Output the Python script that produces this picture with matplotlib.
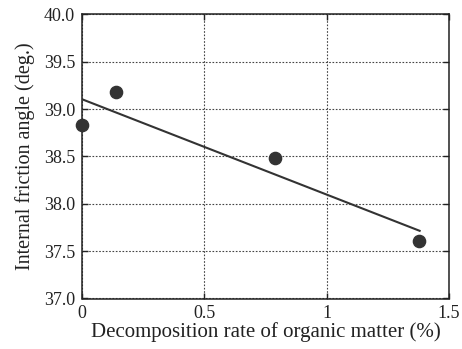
import numpy as np
import matplotlib
matplotlib.use('Agg')
import matplotlib.pyplot as plt

plt.rcParams['font.family'] = ['Liberation Serif', 'DejaVu Serif']

# data
decomp_rate = [0.0, 0.14, 0.79, 1.377]
friction_angle = [38.83, 39.185, 38.48, 37.605]

# trend line drawn in the figure
line_x = [0.0, 1.38]
line_y = [39.105, 37.715]

x_ticks = [0, 0.5, 1, 1.5]
x_ticklabels = ['0', '0.5', '1', '1.5']
y_ticks = [37.0, 37.5, 38.0, 38.5, 39.0, 39.5, 40.0]

fig = plt.figure(figsize=(4.62, 3.49), dpi=100)
ax = fig.add_axes([82 / 462, 1 - 298.5 / 349, 367 / 462, 284 / 349])

ax.plot(line_x, line_y, color='#333333', lw=1.5, zorder=3)
ax.plot(decomp_rate, friction_angle, 'o', color='#333333', ms=8.8,
        clip_on=False, zorder=4)

ax.set_xlim(0, 1.5)
ax.set_ylim(37.0, 40.0)
ax.set_xticks(x_ticks)
ax.set_xticklabels(x_ticklabels)
ax.set_yticks(y_ticks)
ax.set_yticklabels([f'{v:.1f}' for v in y_ticks])

ax.grid(True, linestyle=(0, (1.5, 1.5)), color='#444444', lw=0.8)
ax.tick_params(direction='in', length=4, width=1, top=True, right=True,
               labelsize=13, colors='#222222', pad=5)
for s in ax.spines.values():
    s.set_linewidth(1.1)
    s.set_color('#222222')

ax.set_xlabel('Decomposition rate of organic matter (%)', fontsize=15,
              color='#222222', labelpad=0)
ax.set_ylabel('Internal friction angle (deg.)', fontsize=14.5,
              color='#222222', labelpad=6)

fig.savefig('out.png', dpi=100)
